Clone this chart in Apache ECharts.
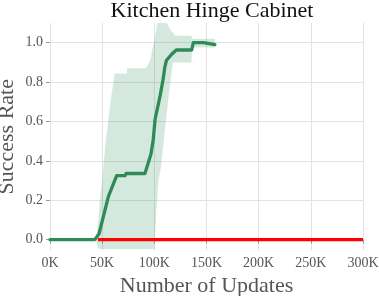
<!DOCTYPE html>
<html><head><meta charset="utf-8">
<script src="https://cdn.jsdelivr.net/npm/echarts@6/dist/echarts.min.js"></script>
<style>html,body{margin:0;padding:0;background:#fff}#c{width:379px;height:296px}</style>
</head><body><div id="c"></div>
<script>
// x values are in thousands of updates
const xTicks = [0, 50, 100, 150, 200, 250, 300];
const yTicks = [0, 0.2, 0.4, 0.6, 0.8, 1.0];

const meanX = [0, 43, 47, 56, 63.9, 71.9, 73, 91, 96.8, 99, 100.7, 105.5, 108.6, 110, 111.6, 116.4, 121, 135.8, 137.4, 147, 148.6, 158];
const meanY = [0, 0, 0.03, 0.22, 0.325, 0.325, 0.336, 0.336, 0.435, 0.51, 0.61, 0.73, 0.82, 0.875, 0.91, 0.94, 0.963, 0.963, 1.0, 1.0, 0.99, 0.99];

const bandX     = [44, 46, 48, 50, 53, 58, 62, 73.5, 74, 92, 96, 99, 100, 102, 103, 104, 106, 108, 111, 114, 115, 117, 118, 120, 135.5, 136, 158];
const bandLower = [0, -0.044, -0.047, -0.047, -0.047, -0.047, -0.047, -0.047, -0.047, -0.047, -0.047, -0.047, -0.047, 0.15, 0.22, 0.30, 0.36, 0.45, 0.60, 0.74, 0.78, 0.87, 0.90, 0.90, 0.90, 0.975, 0.975];
const bandUpper = [0, 0.08, 0.21, 0.30, 0.48, 0.70, 0.843, 0.843, 0.87, 0.87, 0.91, 0.99, 1.01, 1.07, 1.10, 1.13, 1.13, 1.13, 1.11, 1.08, 1.07, 1.055, 1.05, 1.035, 1.035, 1.02, 1.02];

const baselineX = [46, 300];
const baselineY = [0, 0];

const chart = echarts.init(document.getElementById('c'), null, {renderer: 'canvas'});
const serif = '"Liberation Serif", "DejaVu Serif", serif';
const gridColor = '#e3e3e3';
const textColor = '#555555';

const bandData = bandX.map((x, i) => [x, bandLower[i], bandUpper[i]]);

function renderBand(params, api) {
  if (params.dataIndex !== 0) return null;
  const pts = [];
  for (let i = 0; i < bandData.length; i++) pts.push(api.coord([bandData[i][0], bandData[i][2]]));
  for (let i = bandData.length - 1; i >= 0; i--) pts.push(api.coord([bandData[i][0], bandData[i][1]]));
  return {
    type: 'polygon',
    shape: {points: pts},
    style: {fill: 'rgba(46,139,87,0.2)', stroke: 'none'},
    silent: true
  };
}

chart.setOption({
  animation: false,
  backgroundColor: '#ffffff',
  title: {
    text: 'Kitchen Hinge Cabinet',
    left: 207, top: -5, textAlign: 'center',
    textStyle: {fontFamily: serif, fontSize: 22, fontWeight: 'normal', color: '#111111'}
  },
  grid: {left: 50, right: 16, top: 23, bottom: 45.5, containLabel: false, outerBoundsMode: 'none'},
  xAxis: {
    type: 'value', min: 0, max: 300, interval: 50,
    name: 'Number of Updates', nameLocation: 'middle', nameGap: 25, nameMoveOverlap: false,
    nameTextStyle: {fontFamily: serif, fontSize: 22, color: textColor},
    axisLine: {show: false},
    axisTick: {show: true, length: 4, lineStyle: {color: '#999999'}},
    axisLabel: {fontFamily: serif, fontSize: 14, color: textColor, margin: 6, formatter: v => v + 'K'},
    splitLine: {show: true, lineStyle: {color: gridColor, width: 1}}
  },
  yAxis: {
    type: 'value', min: -0.055, max: 1.1,
    name: 'Success Rate', nameLocation: 'middle', nameGap: 32, nameMoveOverlap: false,
    nameTextStyle: {fontFamily: serif, fontSize: 22, color: textColor},
    axisLine: {show: false},
    axisTick: {show: true, length: 4, lineStyle: {color: '#999999'}, customValues: yTicks},
    axisLabel: {fontFamily: serif, fontSize: 14, color: textColor, margin: 7, customValues: yTicks, formatter: v => v.toFixed(1)},
    splitLine: {show: true, lineStyle: {color: gridColor, width: 1}}
  },
  series: [
    {
      type: 'custom', name: 'band', clip: true,
      renderItem: renderBand,
      data: bandData,
      encode: {x: 0, y: [1, 2]},
      silent: true
    },
    {
      type: 'line', name: 'mean',
      data: meanX.map((x, i) => [x, meanY[i]]),
      symbol: 'none', lineStyle: {color: '#2e8b57', width: 3.3, cap: 'round', join: 'round'}
    },
    {
      type: 'line', name: 'baseline',
      data: baselineX.map((x, i) => [x, baselineY[i]]),
      symbol: 'none', lineStyle: {color: '#ff0000', width: 3.3}
    }
  ]
});
</script></body></html>
